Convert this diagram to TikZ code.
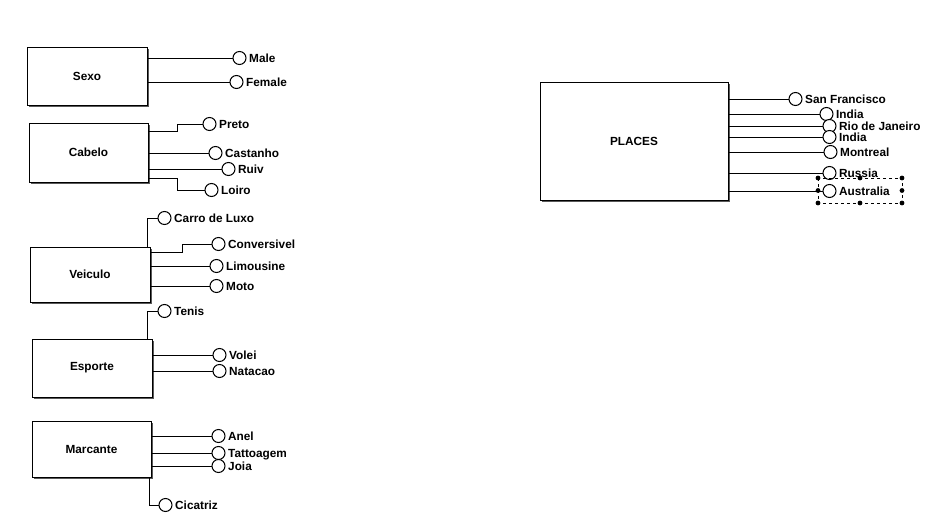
\documentclass[tikz,border=0pt]{standalone}
\usepackage{fontspec}
\setmainfont{Liberation Sans}
\usetikzlibrary{shadows}
\begin{document}
\begin{tikzpicture}[x=1pt,y=-1pt,
  every node/.style={font=\fontsize{11.8}{12}\selectfont\bfseries},
  entbox/.style={draw,line width=1pt,fill=white,rectangle,inner sep=0,
     drop shadow={shadow xshift=1.6pt,shadow yshift=-1.6pt,fill=black!65,opacity=1}},
  attr/.style={draw,circle,line width=1pt,minimum size=13pt,inner sep=0,fill=white},
  lbl/.style={anchor=west,inner sep=0,text height=8.5pt,text depth=0pt,xshift=2.5pt},
  conn/.style={line width=1pt},
  handle/.style={fill=black,circle,inner sep=0,minimum size=4.8pt}]
\useasboundingbox (0,0) rectangle (930,517);
% boxes
\node[entbox,minimum width=120pt,minimum height=58pt] (sexo) at (87,76) {Sexo};
\node[entbox,minimum width=119pt,minimum height=59pt] (cab) at (88.5,152.5) {Cabelo};
\node[entbox,minimum width=120pt,minimum height=55pt] (veic) at (90,274.5) {Veiculo};
\node[entbox,minimum width=120pt,minimum height=58pt] (esp) at (92,368) {Esporte};
\node[entbox,minimum width=119pt,minimum height=56pt] (marc) at (91.5,449) {Marcante};
\node[entbox,minimum width=188pt,minimum height=118pt] (pl) at (634,141) {PLACES};
% attribute circles
\foreach \n/\x/\y/\t in {male/239.5/58/Male, female/236.5/82/Female,
  preto/209.5/124/Preto, cast/215.5/153/Castanho, ruiv/228.5/169/Ruiv, loiro/211.5/190/Loiro,
  carro/164.5/218/Carro de Luxo, conv/218.5/244/Conversivel, limo/216.5/266/Limousine, moto/216.5/286/Moto,
  tenis/164.5/311/Tenis, volei/219.5/355/Volei, nata/219.5/371/Natacao,
  anel/218.5/436/Anel, tatt/218.5/453/Tattoagem, joia/218.5/466/Joia, cica/165.5/505/Cicatriz,
  sanf/795.5/99/San Francisco, indA/826.5/114/India, rio/829.5/126/Rio de Janeiro,
  indB/829.5/137/India, mont/830.5/152/Montreal, russ/829.5/173/Russia, aust/829.5/191/Australia}
{
  \node[attr] (\n) at (\x,\y) {};
  \node[lbl] (\n-t) at (\n.east) {\t};
}
% straight connectors
\foreach \b/\n in {sexo/male, sexo/female, cab/cast, cab/ruiv, veic/limo, veic/moto,
  esp/volei, esp/nata, marc/anel, marc/tatt, marc/joia,
  pl/sanf, pl/indA, pl/rio, pl/indB, pl/mont, pl/russ, pl/aust}
{
  \draw[conn] (\n.west -| \b.east) -- (\n.west);
}
% elbow connectors
\draw[conn] ([yshift=21.5pt]cab.east) -- ++(29,0) |- (preto.west);
\draw[conn] ([yshift=-25.5pt]cab.east) -- ++(29,0) |- (loiro.west);
\draw[conn] ([xshift=-3pt]veic.north east) |- (carro.west);
\draw[conn] ([yshift=22.5pt]veic.east) -- ++(32,0) |- (conv.west);
\draw[conn] ([xshift=-5pt]esp.north east) |- (tenis.west);
\draw[conn] ([xshift=-2pt]marc.south east) |- (cica.west);
% selection frame around Australia
\coordinate (s1) at (818,178);
\coordinate (s2) at (902,203);
\draw[dashed,line width=0.7pt] (s1) rectangle (s2);
\foreach \p in {(818,178),(860,178),(902,178),(818,190.5),(902,190.5),(818,203),(860,203),(902,203)}
  \node[handle] at \p {};
\end{tikzpicture}
\end{document}
